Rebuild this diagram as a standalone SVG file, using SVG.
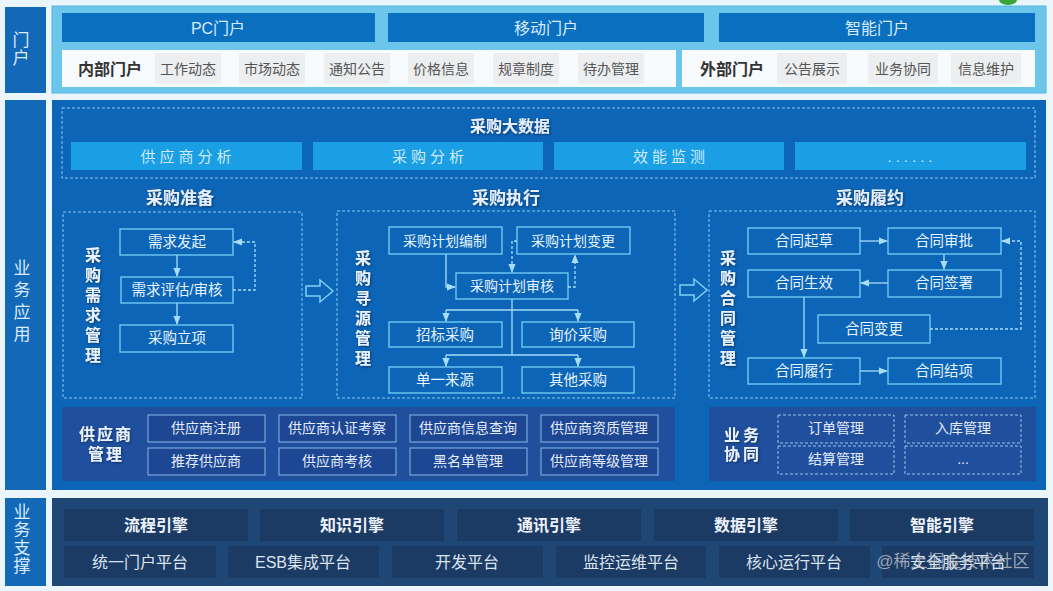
<svg xmlns="http://www.w3.org/2000/svg" width="1053" height="591" viewBox="0 0 1053 591">
<style>
text{font-family:"Liberation Sans","Noto Sans CJK SC",sans-serif;text-anchor:middle;dominant-baseline:central}
.lbl{fill:#1468b8}
.lt{fill:#d8ebff;font-size:17px}
.bar{fill:#0b6fc0}
.bt{fill:#d6ebff;font-size:16px}
.wrow{fill:#f7fbfd}
.gi{fill:#eceef0}
.gt{fill:#555;font-size:14px}
.hd{fill:#333;font-size:16px;font-weight:bold}
.dash{fill:none;stroke:#86c8f0;stroke-width:1;stroke-dasharray:3 2}
.bd{fill:#1a9fe4}
.bdt{fill:#cfeafc;font-size:15px;letter-spacing:4px}
.sec{fill:#e4efff;font-size:17px;font-weight:bold;filter:url(#sh)}
.vt{fill:#e8f2ff;font-size:16px;font-weight:bold;filter:url(#sh)}
.fb{fill:none;stroke:#74d2f6;stroke-width:1.3}
.ft{fill:#e6f4ff;font-size:14.5px}
.ln{fill:none;stroke:#a6def7;stroke-width:1.3}
.dl{fill:none;stroke:#a6def7;stroke-width:1.3;stroke-dasharray:3 2}
.ha{fill:none;stroke:#7fd0f5;stroke-width:1.5}
.sp{fill:#1f4f9d}
.si{fill:#1d4793;stroke:#8ab8ea;stroke-width:1}
.st{fill:#e4ecfb;font-size:14px}
.sd{fill:none;stroke:#9cc3ee;stroke-width:1;stroke-dasharray:3 2}
.eb{fill:#1b3a64}
.et{fill:#eef3fb;font-size:16px;font-weight:bold}
.pt{fill:#dbe4f0;font-size:16px}
</style>
<defs>
<marker id="ah" viewBox="0 0 10 10" refX="9" refY="5" markerWidth="7" markerHeight="7" orient="auto"><path d="M0,1 L10,5 L0,9 z" fill="#a6def7"/></marker>
<filter id="sh" x="-20%" y="-20%" width="140%" height="140%"><feDropShadow dx="1" dy="1" stdDeviation="0.8" flood-color="#0a2a55" flood-opacity="0.8"/></filter>
</defs>
<rect x="0" y="0" width="1053" height="591" fill="#eaf6fb"/>
<ellipse cx="1008" cy="0" rx="9" ry="5" fill="#3aa63a"/>

<!-- Layer labels -->
<g id="label-portal"><rect class="lbl" x="5" y="7" width="41" height="86"/><text class="lt" x="21" y="40">门</text><text class="lt" x="21" y="58">户</text></g>
<g id="label-app"><rect class="lbl" x="5" y="100" width="41" height="390"/><text class="lt" x="22" y="268">业</text><text class="lt" x="22" y="290">务</text><text class="lt" x="22" y="312">应</text><text class="lt" x="22" y="334">用</text></g>
<g id="label-support"><rect class="lbl" x="5" y="498" width="41" height="88"/><text class="lt" x="22" y="512">业</text><text class="lt" x="22" y="530">务</text><text class="lt" x="22" y="548">支</text><text class="lt" x="22" y="566">撑</text></g>

<!-- Portal layer -->
<g id="portal">
<rect x="52" y="6" width="994" height="87" fill="#6cc5ea" stroke="#52b6e2"/>
<rect class="bar" x="62" y="13" width="313" height="29"/><text class="bt" x="218" y="28">PC门户</text>
<rect class="bar" x="388" y="13" width="316" height="29"/><text class="bt" x="546" y="28">移动门户</text>
<rect class="bar" x="719" y="13" width="316" height="29"/><text class="bt" x="877" y="28">智能门户</text>
<g id="internal-portal">
<rect class="wrow" x="62" y="50" width="614" height="37"/>
<text class="hd" x="110" y="69">内部门户</text>
<rect class="gi" x="155" y="53" width="66" height="31"/><text class="gt" x="188" y="69">工作动态</text>
<rect class="gi" x="239" y="53" width="66" height="31"/><text class="gt" x="272" y="69">市场动态</text>
<rect class="gi" x="324" y="53" width="66" height="31"/><text class="gt" x="357" y="69">通知公告</text>
<rect class="gi" x="408" y="53" width="66" height="31"/><text class="gt" x="441" y="69">价格信息</text>
<rect class="gi" x="493" y="53" width="66" height="31"/><text class="gt" x="526" y="69">规章制度</text>
<rect class="gi" x="578" y="53" width="66" height="31"/><text class="gt" x="611" y="69">待办管理</text>
</g>
<g id="external-portal">
<rect class="wrow" x="682" y="50" width="353" height="37"/>
<text class="hd" x="732" y="69">外部门户</text>
<rect class="gi" x="777" y="53" width="70" height="31"/><text class="gt" x="812" y="69">公告展示</text>
<rect class="gi" x="868" y="53" width="70" height="31"/><text class="gt" x="903" y="69">业务协同</text>
<rect class="gi" x="951" y="53" width="70" height="31"/><text class="gt" x="986" y="69">信息维护</text>
</g>
</g>

<!-- Application layer -->
<rect x="52" y="100" width="994" height="390" fill="#0c65b7"/>
<g id="bigdata">
<rect class="dash" x="62" y="108" width="973" height="70"/>
<text class="sec" x="510" y="126" style="font-size:16px">采购大数据</text>
<rect class="bd" x="71" y="142" width="231" height="28"/><text class="bdt" x="188" y="156">供应商分析</text>
<rect class="bd" x="313" y="142" width="230" height="28"/><text class="bdt" x="430" y="156">采购分析</text>
<rect class="bd" x="554" y="142" width="230" height="28"/><text class="bdt" x="671" y="156">效能监测</text>
<rect class="bd" x="795" y="142" width="231" height="28"/><text class="bdt" x="912" y="156">......</text>
</g>
<text class="sec" x="180" y="198">采购准备</text>
<text class="sec" x="506" y="198">采购执行</text>
<text class="sec" x="870" y="198">采购履约</text>

<g id="demand-mgmt">
<rect class="dash" x="63" y="212" width="239" height="186"/>
<text class="vt" x="93" y="255">采</text><text class="vt" x="93" y="275">购</text><text class="vt" x="93" y="295">需</text><text class="vt" x="93" y="315">求</text><text class="vt" x="93" y="335">管</text><text class="vt" x="93" y="355">理</text>
<g id="n-demand-start"><rect class="fb" x="120" y="229" width="113" height="26"/><text class="ft" x="177" y="242">需求发起</text></g>
<g id="n-demand-review"><rect class="fb" x="121" y="277" width="112" height="26"/><text class="ft" x="177" y="290">需求评估/审核</text></g>
<g id="n-project"><rect class="fb" x="120" y="325" width="113" height="27"/><text class="ft" x="177" y="338">采购立项</text></g>
</g>

<g id="sourcing-mgmt">
<rect class="dash" x="337" y="211" width="338" height="187"/>
<text class="vt" x="363" y="258">采</text><text class="vt" x="363" y="278">购</text><text class="vt" x="363" y="298">寻</text><text class="vt" x="363" y="318">源</text><text class="vt" x="363" y="338">管</text><text class="vt" x="363" y="358">理</text>
<g id="n-plan-make"><rect class="fb" x="389" y="227" width="113" height="27"/><text class="ft" x="445" y="241" style="font-size:14px">采购计划编制</text></g>
<g id="n-plan-change"><rect class="fb" x="517" y="227" width="113" height="27"/><text class="ft" x="573" y="241" style="font-size:14px">采购计划变更</text></g>
<g id="n-plan-review"><rect class="fb" x="456" y="273" width="112" height="26"/><text class="ft" x="512" y="286" style="font-size:14px">采购计划审核</text></g>
<g id="n-bid"><rect class="fb" x="389" y="322" width="113" height="25"/><text class="ft" x="445" y="335">招标采购</text></g>
<g id="n-inquiry"><rect class="fb" x="522" y="322" width="112" height="25"/><text class="ft" x="578" y="335">询价采购</text></g>
<g id="n-single"><rect class="fb" x="389" y="367" width="113" height="26"/><text class="ft" x="445" y="380">单一来源</text></g>
<g id="n-other"><rect class="fb" x="522" y="367" width="112" height="26"/><text class="ft" x="578" y="380">其他采购</text></g>
</g>

<g id="contract-mgmt">
<rect class="dash" x="709" y="211" width="326" height="187"/>
<text class="vt" x="728" y="258">采</text><text class="vt" x="728" y="278">购</text><text class="vt" x="728" y="298">合</text><text class="vt" x="728" y="318">同</text><text class="vt" x="728" y="338">管</text><text class="vt" x="728" y="358">理</text>
<g id="n-draft"><rect class="fb" x="748" y="228" width="112" height="26"/><text class="ft" x="804" y="241">合同起草</text></g>
<g id="n-approve"><rect class="fb" x="888" y="228" width="113" height="26"/><text class="ft" x="944" y="241">合同审批</text></g>
<g id="n-sign"><rect class="fb" x="888" y="270" width="113" height="27"/><text class="ft" x="944" y="283">合同签署</text></g>
<g id="n-effect"><rect class="fb" x="748" y="270" width="112" height="27"/><text class="ft" x="804" y="283">合同生效</text></g>
<g id="n-change"><rect class="fb" x="818" y="315" width="112" height="28"/><text class="ft" x="874" y="329">合同变更</text></g>
<g id="n-perform"><rect class="fb" x="748" y="358" width="112" height="26"/><text class="ft" x="804" y="371">合同履行</text></g>
<g id="n-close"><rect class="fb" x="888" y="358" width="113" height="26"/><text class="ft" x="944" y="371">合同结项</text></g>
</g>

<g id="connectors">
<path class="ln" d="M177,255 V276" marker-end="url(#ah)"/>
<path class="ln" d="M177,303 V324" marker-end="url(#ah)"/>
<path class="dl" d="M233,290 H255 V242 H234" marker-end="url(#ah)"/>
<path class="ha" d="M306,286 H320 V280 L333,291 L320,302 V296 H306 Z"/>
<path class="ln" d="M446,254 V287 H455" marker-end="url(#ah)"/>
<path class="dl" d="M517,241 H512 V272" marker-end="url(#ah)"/>
<path class="dl" d="M568,287 H575 V255" marker-end="url(#ah)"/>
<path class="ln" d="M512,299 V355"/>
<path class="ln" d="M446,310 H578"/>
<path class="ln" d="M446,310 V321" marker-end="url(#ah)"/>
<path class="ln" d="M578,310 V321" marker-end="url(#ah)"/>
<path class="ln" d="M446,355 H578"/>
<path class="ln" d="M446,355 V366" marker-end="url(#ah)"/>
<path class="ln" d="M578,355 V366" marker-end="url(#ah)"/>
<path class="ha" d="M680,285 H694 V279 L707,290 L694,301 V295 H680 Z"/>
<path class="ln" d="M860,241 H887" marker-end="url(#ah)"/>
<path class="ln" d="M944,254 V269" marker-end="url(#ah)"/>
<path class="ln" d="M888,283 H861" marker-end="url(#ah)"/>
<path class="ln" d="M804,297 V357" marker-end="url(#ah)"/>
<path class="ln" d="M860,371 H887" marker-end="url(#ah)"/>
<path class="dl" d="M930,329 H1021 V241 H1002" marker-end="url(#ah)"/>
</g>

<g id="supplier-mgmt">
<rect class="sp" x="62" y="407" width="613" height="74"/>
<text class="vt" x="106" y="434" style="letter-spacing:2px">供应商</text>
<text class="vt" x="106" y="454" style="letter-spacing:2px">管理</text>
<rect class="si" x="148" y="415" width="117" height="27"/><text class="st" x="206" y="428">供应商注册</text>
<rect class="si" x="279" y="415" width="117" height="27"/><text class="st" x="337" y="428">供应商认证考察</text>
<rect class="si" x="410" y="415" width="117" height="27"/><text class="st" x="468" y="428">供应商信息查询</text>
<rect class="si" x="541" y="415" width="117" height="27"/><text class="st" x="599" y="428">供应商资质管理</text>
<rect class="si" x="148" y="448" width="117" height="27"/><text class="st" x="206" y="461">推荐供应商</text>
<rect class="si" x="279" y="448" width="117" height="27"/><text class="st" x="337" y="461">供应商考核</text>
<rect class="si" x="410" y="448" width="117" height="27"/><text class="st" x="468" y="461">黑名单管理</text>
<rect class="si" x="541" y="448" width="117" height="27"/><text class="st" x="599" y="461">供应商等级管理</text>
</g>

<g id="biz-collab">
<rect class="sp" x="709" y="407" width="327" height="74"/>
<text class="vt" x="743" y="435" style="letter-spacing:3px">业务</text>
<text class="vt" x="743" y="454" style="letter-spacing:3px">协同</text>
<rect class="sd" x="778" y="415" width="116" height="28"/><text class="st" x="836" y="428">订单管理</text>
<rect class="sd" x="905" y="415" width="116" height="28"/><text class="st" x="963" y="428">入库管理</text>
<rect class="sd" x="778" y="446" width="116" height="28"/><text class="st" x="836" y="459">结算管理</text>
<rect class="sd" x="905" y="446" width="116" height="28"/><text class="st" x="963" y="459">...</text>
</g>

<!-- Support layer -->
<g id="support">
<rect x="52" y="498" width="996" height="88" fill="#1e4775"/>
<rect class="eb" x="64" y="509" width="184" height="32"/><text class="et" x="156" y="525">流程引擎</text>
<rect class="eb" x="260" y="509" width="184" height="32"/><text class="et" x="352" y="525">知识引擎</text>
<rect class="eb" x="457" y="509" width="184" height="32"/><text class="et" x="549" y="525">通讯引擎</text>
<rect class="eb" x="654" y="509" width="184" height="32"/><text class="et" x="746" y="525">数据引擎</text>
<rect class="eb" x="850" y="509" width="184" height="32"/><text class="et" x="942" y="525">智能引擎</text>
<rect class="eb" x="64" y="546" width="152" height="32"/><text class="pt" x="140" y="562">统一门户平台</text>
<rect class="eb" x="228" y="546" width="151" height="32"/><text class="pt" x="303" y="562">ESB集成平台</text>
<rect class="eb" x="392" y="546" width="151" height="32"/><text class="pt" x="467" y="562">开发平台</text>
<rect class="eb" x="556" y="546" width="150" height="32"/><text class="pt" x="631" y="562">监控运维平台</text>
<rect class="eb" x="719" y="546" width="151" height="32"/><text class="pt" x="794" y="562">核心运行平台</text>
<rect class="eb" x="882" y="546" width="152" height="32"/><text class="pt" x="958" y="562">安全服务平台</text>
</g>
<text x="953" y="561" style="fill:#c8ccd2;fill-opacity:0.75;font-size:17px">@稀土掘金技术社区</text>
</svg>
